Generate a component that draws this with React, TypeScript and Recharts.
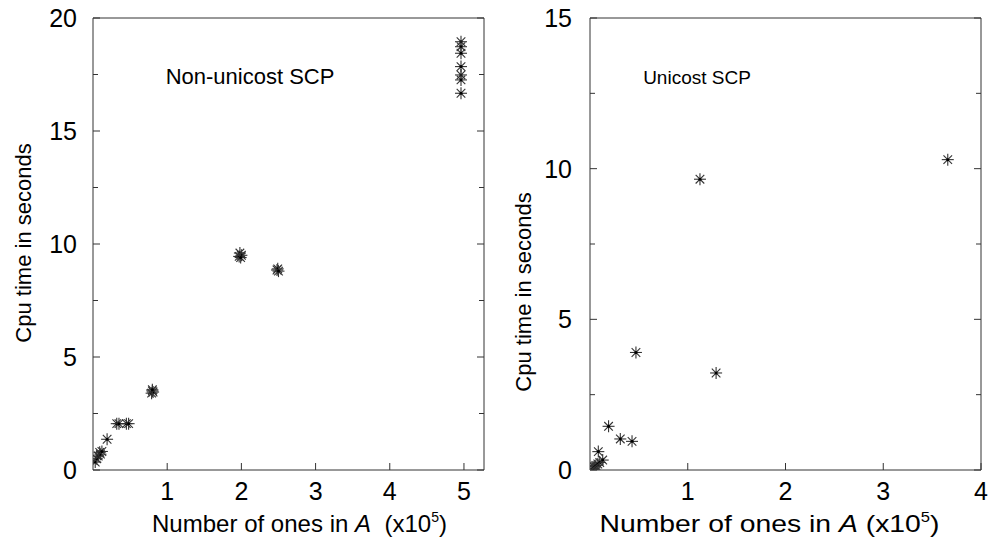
import { ScatterChart, Scatter, XAxis, YAxis } from "recharts"

// Non-unicost SCP: number of ones in A (x10^5) vs cpu seconds
const nonUnicostOnes = [
  0.03, 0.05, 0.07, 0.09, 0.1, 0.12, 0.19, 0.32, 0.35, 0.45, 0.48, 0.79, 0.8, 0.81, 0.8,
  1.97, 1.98, 2.0, 1.99, 2.48, 2.49, 2.5,
  4.96, 4.96, 4.96, 4.96, 4.96, 4.96, 4.96,
]
const nonUnicostCpu = [
  0.35, 0.5, 0.62, 0.78, 0.7, 0.82, 1.36, 2.05, 2.05, 2.05, 2.05, 3.4, 3.5, 3.45, 3.55,
  9.45, 9.6, 9.5, 9.4, 8.85, 8.9, 8.8,
  18.95, 18.73, 18.44, 17.85, 17.48, 17.26, 16.67,
]

// Unicost SCP
const unicostOnes = [0.03, 0.04, 0.05, 0.06, 0.08, 0.1, 0.13, 0.085, 0.19, 0.31, 0.43, 0.47, 1.125, 1.29, 3.66]
const unicostCpu = [0.05, 0.1, 0.12, 0.15, 0.2, 0.25, 0.33, 0.61, 1.45, 1.03, 0.95, 3.9, 9.65, 3.22, 10.3]

const leftXTicks = [1, 2, 3, 4, 5]
const leftYTicks = [0, 2.5, 5, 7.5, 10, 12.5, 15, 17.5, 20]
const rightXTicks = [1, 2, 3, 4]
const rightYTicks = [0, 2.5, 5, 7.5, 10, 12.5, 15]

const FONT = "'Liberation Sans', Arial, Helvetica, sans-serif"
const INK = "#333"

const toPoints = (xs: number[], ys: number[]) => xs.map((x, i) => ({ x, y: ys[i] }))

function Star(props: any) {
  const { cx, cy } = props
  const r = 6
  const d = 4.3
  return (
    <g stroke={INK} strokeWidth={1.1}>
      <line x1={cx - r} y1={cy} x2={cx + r} y2={cy} />
      <line x1={cx} y1={cy - r} x2={cx} y2={cy + r} />
      <line x1={cx - d} y1={cy - d} x2={cx + d} y2={cy + d} />
      <line x1={cx - d} y1={cy + d} x2={cx + d} y2={cy - d} />
      <circle cx={cx} cy={cy} r={1.5} fill="#000" stroke="none" />
    </g>
  )
}

// ticks point inwards, labels only on bottom / left
function BottomTick({ x, y, payload }: any) {
  return (
    <g>
      <line x1={x} y1={y} x2={x} y2={y - 7} stroke={INK} />
      <text x={x} y={y + 30} textAnchor="middle" fontSize={25} fontFamily={FONT} fill="#000">
        {payload.value}
      </text>
    </g>
  )
}

function TopTick({ x, y }: any) {
  return <line x1={x} y1={y} x2={x} y2={y + 7} stroke={INK} />
}

function LeftTick({ x, y, payload, gap }: any) {
  const major = payload.value % 5 === 0
  return (
    <g>
      <line x1={x} y1={y} x2={x + (major ? 7 : 5)} y2={y} stroke={INK} />
      {major && (
        <text x={x - gap} y={y} dy="0.36em" textAnchor="end" fontSize={25} fontFamily={FONT} fill="#000">
          {payload.value}
        </text>
      )}
    </g>
  )
}

function RightTick({ x, y, payload }: any) {
  const major = payload.value % 5 === 0
  return <line x1={x} y1={y} x2={x - (major ? 7 : 5)} y2={y} stroke={INK} />
}

function XTitle({ viewBox, shift, two, span }: any) {
  const cx = viewBox.x + viewBox.width / 2 + shift
  return (
    <text
      x={cx}
      y={viewBox.y + 62}
      textAnchor="middle"
      fontSize={24}
      fontFamily={FONT}
      fill="#000"
      textLength={span}
      lengthAdjust="spacingAndGlyphs"
    >
      Number of ones in <tspan fontStyle="italic">A</tspan>
      {two ? "\u00a0\u00a0(x10" : " (x10"}
      <tspan dy={-10} fontSize={14}>5</tspan>
      <tspan dy={10}>)</tspan>
    </text>
  )
}

function YTitle({ viewBox, cx, shift }: any) {
  const cy = viewBox.y + viewBox.height / 2 + shift
  return (
    <text
      x={cx}
      y={cy}
      transform={`rotate(-90 ${cx} ${cy})`}
      textAnchor="middle"
      dy="0.35em"
      fontSize={22}
      fontFamily={FONT}
      fill="#000"
    >
      Cpu time in seconds
    </text>
  )
}

function Panel(props: any) {
  const { data, xMax, yMax, xTicks, yTicks, yWidth, right, xShift, yShift, yTitleX, gap, two, span } = props
  return (
    <ScatterChart width={495} height={542} margin={{ top: 17, right, bottom: 0, left: 0 }}>
      <XAxis
        dataKey="x"
        type="number"
        domain={[0, xMax]}
        ticks={xTicks}
        interval={0}
        allowDataOverflow
        height={72}
        tickSize={0}
        tickMargin={0}
        tickLine={false}
        stroke={INK}
        tick={<BottomTick />}
        label={<XTitle shift={xShift} two={two} span={span} />}
      />
      <XAxis
        xAxisId="top"
        orientation="top"
        type="number"
        domain={[0, xMax]}
        ticks={xTicks}
        interval={0}
        allowDataOverflow
        height={1}
        tickSize={0}
        tickMargin={0}
        tickLine={false}
        stroke={INK}
        tick={<TopTick />}
      />
      <YAxis
        dataKey="y"
        type="number"
        domain={[0, yMax]}
        ticks={yTicks}
        interval={0}
        allowDataOverflow
        width={yWidth}
        tickSize={0}
        tickMargin={0}
        tickLine={false}
        stroke={INK}
        tick={<LeftTick gap={gap} />}
        label={<YTitle cx={yTitleX} shift={yShift} />}
      />
      <YAxis
        yAxisId="right"
        orientation="right"
        type="number"
        domain={[0, yMax]}
        ticks={yTicks}
        interval={0}
        allowDataOverflow
        width={1}
        tickSize={0}
        tickMargin={0}
        tickLine={false}
        stroke={INK}
        tick={<RightTick />}
      />
      <Scatter data={data} shape={<Star />} isAnimationActive={false} />
    </ScatterChart>
  )
}

const titleStyle = (center: number, size: number): React.CSSProperties => ({
  position: "absolute",
  left: center - 150,
  width: 300,
  top: 77 - size / 2,
  lineHeight: `${size}px`,
  fontSize: size,
  fontFamily: FONT,
  textAlign: "center",
  color: "#000",
})

export default function App() {
  return (
    <div style={{ position: "absolute", left: 0, top: 0, width: 990, height: 542, background: "#fff" }}>
      <div style={{ position: "absolute", left: 0, top: 0 }}>
        <Panel
          data={toPoints(nonUnicostOnes, nonUnicostCpu)}
          xMax={5.27}
          yMax={20}
          xTicks={leftXTicks}
          yTicks={leftYTicks}
          yWidth={93}
          right={10}
          xShift={11}
          yShift={-1}
          yTitleX={23}
          gap={16}
          two
          span={295}
        />
      </div>
      <div style={{ position: "absolute", left: 495, top: 0 }}>
        <Panel
          data={toPoints(unicostOnes, unicostCpu)}
          xMax={4}
          yMax={15}
          xTicks={rightXTicks}
          yTicks={rightYTicks}
          yWidth={95}
          right={8}
          xShift={-16}
          yShift={48}
          yTitleX={28}
          gap={18}
          two={false}
          span={340}
        />
      </div>
      <div style={titleStyle(250, 22)}>Non-unicost SCP</div>
      <div style={titleStyle(697, 19)}>Unicost SCP</div>
    </div>
  )
}
